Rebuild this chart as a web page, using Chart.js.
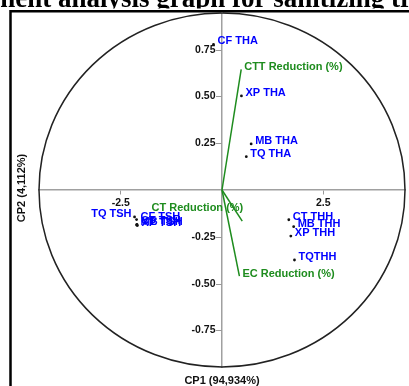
<!DOCTYPE html>
<html>
<head>
<meta charset="utf-8">
<script src="https://cdn.jsdelivr.net/npm/chart.js@4.4.1/dist/chart.umd.min.js"></script>
<style>
html, body { margin: 0; padding: 0; background: #fff; }
#wrap { position: relative; width: 409px; height: 386px; overflow: hidden; }
</style>
</head>
<body>
<div id="wrap"><canvas id="pcaChart" width="409" height="386"></canvas></div>
<script>
// observations (scores on CP1 / CP2)
const obsLabels = ['CF THA', 'XP THA', 'MB THA', 'TQ THA',
                   'TQ TSH', 'CF TSH', 'MB TSH', 'XP TSH', 'CT TSH',
                   'CT THH', 'MB THH', 'XP THH', 'TQTHH'];
const obsX = [-0.21, 0.48, 0.72, 0.60, -2.16, -2.11, -2.11, -2.09, -2.10, 1.65, 1.77, 1.70, 1.79];
const obsY = [0.778, 0.503, 0.246, 0.178, -0.144, -0.158, -0.187, -0.19, -0.184, -0.159, -0.196, -0.246, -0.374];

// variables (loading vectors)
const varLabels = ['CTT Reduction (%)', 'CT Reduction (%)', 'EC Reduction (%)'];
const varX = [0.474, 0.50, 0.43];
const varY = [0.645, -0.166, -0.46];

const xTicks = [-2.5, 2.5];
const yTicks = [-0.75, -0.5, -0.25, 0.25, 0.5, 0.75];
const xAxisTitle = 'CP1 (94,934%)';
const yAxisTitle = 'CP2 (4,112%)';
const chartTitle = 'Principal component analysis graph for sanitizing treatments';

const green = '#1e8c1e';
const blue = '#0000ff';
const labelFont = 'bold 11px "Liberation Sans", Arial, sans-serif';
const tickLabelFont = 'bold 10.5px "Liberation Sans", Arial, sans-serif';

const datasets = varLabels.map((lab, i) => ({
    label: lab,
    data: [{x: 0, y: 0}, {x: varX[i], y: varY[i]}],
    showLine: true,
    borderColor: green,
    borderWidth: 1.5,
    pointRadius: 0
}));
datasets.push({
    label: 'obs',
    data: obsX.map((x, i) => ({x: x, y: obsY[i]})),
    backgroundColor: '#111',
    borderColor: '#111',
    borderWidth: 0,
    pointRadius: 1.4
});

// circle, frame, title, y ticks, axis titles and text labels
const decor = {
    id: 'decor',
    beforeDatasetsDraw(chart) {
        const {ctx, chartArea: a} = chart;
        ctx.save();
        ctx.strokeStyle = '#222';
        ctx.lineWidth = 1.5;
        ctx.beginPath();
        ctx.ellipse((a.left + a.right) / 2, (a.top + a.bottom) / 2,
            (a.right - a.left) / 2, (a.bottom - a.top) / 2, 0, 0, Math.PI * 2);
        ctx.stroke();

        const axisX = chart.scales.x.getPixelForValue(0);
        // vertical axis runs up to the frame
        ctx.strokeStyle = '#a0a0a0';
        ctx.lineWidth = 1.5;
        ctx.beginPath();
        ctx.moveTo(axisX, 12);
        ctx.lineTo(axisX, a.top);
        ctx.stroke();

        // y ticks sit on the left of the centre axis
        ctx.strokeStyle = '#999';
        ctx.lineWidth = 1;
        ctx.fillStyle = '#111';
        ctx.font = tickLabelFont;
        ctx.textAlign = 'right';
        ctx.textBaseline = 'middle';
        yTicks.forEach(v => {
            const py = Math.round(chart.scales.y.getPixelForValue(v)) + 0.5;
            ctx.beginPath();
            ctx.moveTo(axisX - 6, py);
            ctx.lineTo(axisX, py);
            ctx.stroke();
            ctx.fillText(v.toFixed(2), axisX - 6.5, py);
        });
        ctx.restore();
    },
    afterDatasetsDraw(chart) {
        const ctx = chart.ctx;
        ctx.save();
        ctx.font = labelFont;
        ctx.textBaseline = 'middle';

        // vector labels
        ctx.fillStyle = green;
        varLabels.forEach((lab, i) => {
            const p = chart.getDatasetMeta(i).data[1];
            if (lab === 'CT Reduction (%)') {
                ctx.textAlign = 'right';
                ctx.fillText(lab, p.x + 1, p.y - 13);
            } else {
                ctx.textAlign = 'left';
                ctx.fillText(lab, p.x + 3, p.y - 2);
            }
        });

        // observation labels
        ctx.fillStyle = blue;
        const pts = chart.getDatasetMeta(varLabels.length).data;
        obsLabels.forEach((lab, i) => {
            const p = pts[i];
            if (lab === 'TQ TSH') {
                ctx.textAlign = 'right';
                ctx.fillText(lab, p.x - 3, p.y - 3);
            } else {
                ctx.textAlign = 'left';
                ctx.fillText(lab, p.x + 4, p.y - 3);
            }
        });
        ctx.restore();
    },
    afterDraw(chart) {
        const ctx = chart.ctx;
        const a = chart.chartArea;

        // title (cut off by the top of the picture)
        ctx.save();
        ctx.beginPath();
        ctx.rect(0, 0, 409, 8.5);
        ctx.clip();
        ctx.fillStyle = '#000';
        ctx.font = 'bold 27px "Liberation Serif", "Times New Roman", serif';
        ctx.textBaseline = 'alphabetic';
        ctx.textAlign = 'left';
        const lead = ctx.measureText('Principal component ').width;
        ctx.fillText(chartTitle, 58 - lead, 6.5);
        ctx.restore();

        ctx.save();
        // frame
        ctx.strokeStyle = '#000';
        ctx.lineWidth = 2.5;
        ctx.beginPath();
        ctx.moveTo(10.5, 386);
        ctx.lineTo(10.5, 11.3);
        ctx.lineTo(409, 11.3);
        ctx.stroke();

        // axis titles
        ctx.font = labelFont;
        ctx.fillStyle = '#111';
        ctx.textAlign = 'center';
        ctx.textBaseline = 'middle';
        ctx.fillText(xAxisTitle, (a.left + a.right) / 2, 381);
        ctx.translate(22, 188);
        ctx.rotate(-Math.PI / 2);
        ctx.fillText(yAxisTitle, 0, 0);
        ctx.restore();
    }
};

const tickFont = {family: '"Liberation Sans", Arial, sans-serif', size: 10.5, weight: 'bold'};

new Chart(document.getElementById('pcaChart'), {
    type: 'scatter',
    data: {datasets: datasets},
    plugins: [decor],
    options: {
        responsive: false,
        animation: false,
        layout: {padding: {left: 39, right: 2, top: 13, bottom: 19}},
        plugins: {legend: {display: false}, tooltip: {enabled: false}},
        scales: {
            x: {
                type: 'linear',
                min: -4.52,
                max: 4.52,
                position: {y: 0},
                afterBuildTicks: s => { s.ticks = xTicks.map(v => ({value: v})); },
                ticks: {
                    callback: v => v.toFixed(1),
                    font: tickFont,
                    color: '#111',
                    padding: 3,
                    maxRotation: 0,
                    autoSkip: false
                },
                grid: {drawOnChartArea: false, drawTicks: true, tickLength: 4, color: '#999'},
                border: {color: '#a0a0a0', width: 1.5}
            },
            y: {
                type: 'linear',
                min: -0.946,
                max: 0.946,
                position: {x: 0},
                afterBuildTicks: s => { s.ticks = yTicks.map(v => ({value: v})); },
                ticks: {display: false},
                grid: {drawOnChartArea: false, drawTicks: false},
                border: {color: '#a0a0a0', width: 1.5}
            }
        }
    }
});
</script>
</body>
</html>
